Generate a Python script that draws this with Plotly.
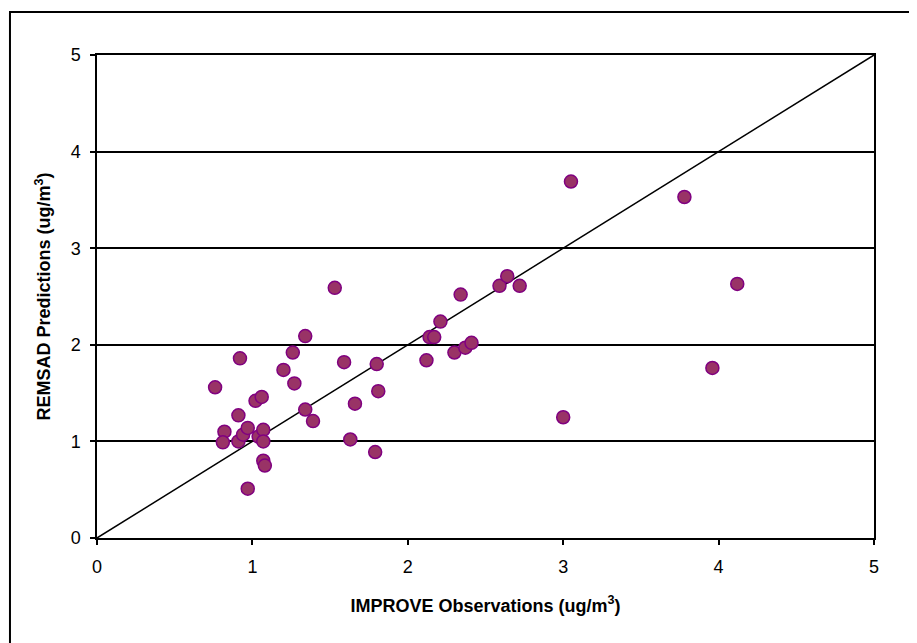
import plotly.graph_objects as go

improve_obs = [0.76, 0.92, 0.82, 0.81, 0.91, 0.91, 0.94, 0.97, 0.97, 1.02, 1.06, 1.04, 1.07,
               1.07, 1.07, 1.08, 1.20, 1.26, 1.27, 1.34, 1.34, 1.39, 1.53, 1.59, 1.63, 1.66,
               1.79, 1.80, 1.81, 2.12, 2.14, 2.17, 2.21, 2.30, 2.34, 2.37, 2.41, 2.59, 2.64,
               2.72, 3.00, 3.05, 3.78, 3.96, 4.12]
remsad_pred = [1.56, 1.86, 1.10, 0.99, 1.27, 1.00, 1.07, 1.14, 0.51, 1.42, 1.46, 1.05, 1.12,
               1.00, 0.80, 0.75, 1.74, 1.92, 1.60, 2.09, 1.33, 1.21, 2.59, 1.82, 1.02, 1.39,
               0.89, 1.80, 1.52, 1.84, 2.08, 2.08, 2.24, 1.92, 2.52, 1.97, 2.02, 2.61, 2.71,
               2.61, 1.25, 3.69, 3.53, 1.76, 2.63]
one_to_one = [0, 5]
tick_vals = [0, 1, 2, 3, 4, 5]

fig = go.Figure()
fig.add_trace(go.Scatter(x=one_to_one, y=one_to_one, mode="lines",
                         line=dict(color="black", width=1.5), showlegend=False,
                         hoverinfo="skip"))
fig.add_trace(go.Scatter(x=improve_obs, y=remsad_pred, mode="markers",
                         marker=dict(size=13, color="#993366",
                                     line=dict(color="#800080", width=1.5)),
                         showlegend=False))

font_family = "Liberation Sans, Arial, sans-serif"
fig.update_layout(
    width=917, height=643,
    margin=dict(l=89, r=51, t=47, b=113),
    paper_bgcolor="white", plot_bgcolor="white",
    font=dict(family=font_family, size=18, color="black"),
    xaxis=dict(range=[0, 5], tickvals=tick_vals, showgrid=False, zeroline=False,
               showline=True, linecolor="black", linewidth=1.5, mirror=True,
               ticks="outside", ticklen=5, tickwidth=1.5, tickcolor="black",
               tickfont=dict(size=18), ticklabelstandoff=7,
               title=dict(text="<b>IMPROVE Observations (ug/m<sup>3</sup>)</b>",
                          font=dict(size=18), standoff=23)),
    yaxis=dict(range=[0, 5], tickvals=tick_vals, showgrid=True, gridcolor="black",
               gridwidth=1.5, zeroline=False,
               showline=True, linecolor="black", linewidth=1.5, mirror=True,
               ticks="outside", ticklen=5, tickwidth=1.5, tickcolor="black",
               tickfont=dict(size=18), ticklabelstandoff=6,
               title=dict(text="<b>REMSAD Predictions (ug/m<sup>3</sup>)</b>",
                          font=dict(size=18), standoff=15)),
    shapes=[dict(type="rect", xref="paper", yref="paper",
                 x0=-0.112, y0=-0.6, x1=1.3, y1=1.089,
                 line=dict(color="black", width=2), fillcolor="rgba(0,0,0,0)",
                 layer="below")],
)

fig.write_html("out.html")
